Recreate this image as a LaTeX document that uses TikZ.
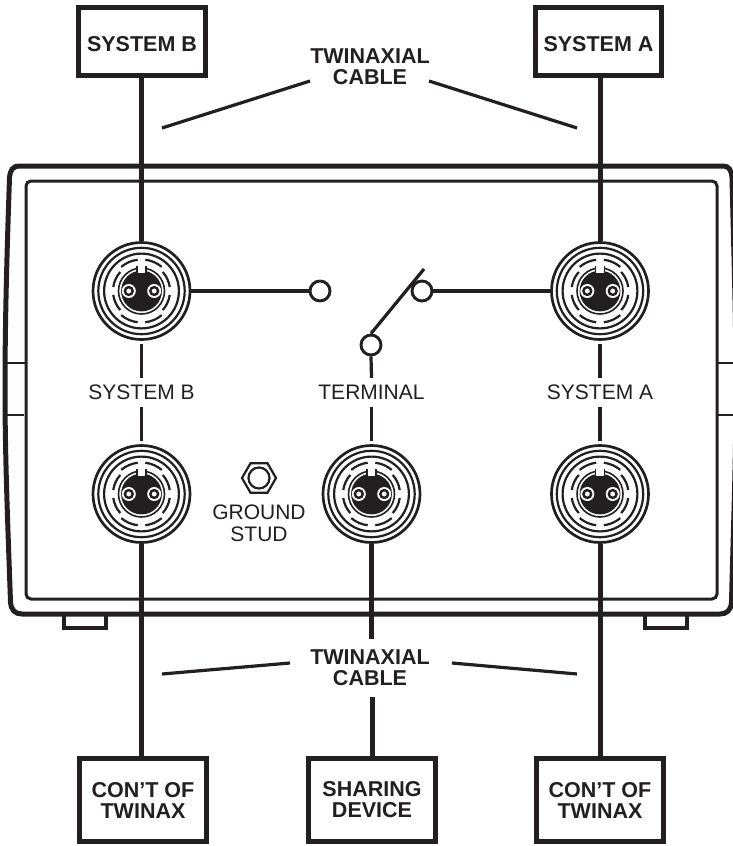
\documentclass[tikz,border=0pt]{standalone}
\usepackage{fontspec}
\setmainfont{Liberation Sans}
\usetikzlibrary{shapes.geometric}
\definecolor{inkblack}{HTML}{231F20}
\tikzset{
  unitbox/.style={draw=inkblack, line width=5pt, fill=white, inner sep=0pt, align=center,
    text=inkblack, font=\fontsize{21.5}{21}\selectfont\bfseries,
    execute at begin node={\rule{0pt}{19.4pt}}},
  lowbox/.style={unitbox, minimum width=127pt, minimum height=83pt,
    execute at begin node={\rule{0pt}{22pt}}},
  cablelabel/.style={inner sep=0pt, align=center, text=inkblack, font=\fontsize{21.5}{21}\selectfont\bfseries},
  panellabel/.style={inner sep=0pt, minimum height=29pt, align=center, text=inkblack, font=\fontsize{21}{22}\selectfont},
  jackbody/.style={circle, draw=inkblack, line width=2.7pt, fill=white, inner sep=0pt, minimum size=97pt},
  contact/.style={circle, draw=inkblack, line width=2.9pt, fill=white, inner sep=0pt, minimum size=20pt},
  cable/.style={draw=inkblack, line width=5pt},
  wire/.style={draw=inkblack, line width=3.2pt},
  leader/.style={draw=inkblack, line width=3.2pt},
  casing/.style={draw=inkblack, line width=5pt},
}
% one twinax socket: #1 = node name, #2 = position
\newcommand{\jack}[2]{%
  \node[jackbody] (#1) at (#2) {};
  \begin{scope}[shift={(#2)}, x=1pt, y=1pt, draw=inkblack, line width=2.2pt]
    \draw (0,0) circle[radius=43.2pt];
    \draw (0,0) circle[radius=37.4pt];
    % broken ring
    \foreach \a/\b/\r in {97/130/31.5, 138/172/28.5, 188/222/28.5, 230/263/31.5,
                          277/310/31.5, 318/352/28.5, 8/42/28.5, 50/83/31.5}
      \draw (\a:\r pt) arc[start angle=\a, end angle=\b, radius=\r pt];
    \draw[line width=1.6pt] (0,0) circle[radius=23pt];
    \fill[inkblack] (0,0) circle[radius=20.4pt];
    % key slot
    \fill[white] (-4.5,16.5) rectangle (4.5,25);
    \draw[line width=1.4pt] (-4.5,25) -- (-4.5,17) -- (4.5,17) -- (4.5,25);
    % pins
    \foreach \x in {-12.7,12.7} {
      \fill[white] (\x,0) circle[radius=7pt];
      \draw[line width=2.4pt] (\x,0) circle[radius=3.9pt];
    }
  \end{scope}
}
\begin{document}
\begin{tikzpicture}[x=1pt, y=-1pt]
  \useasboundingbox (0,0) rectangle (733,846);

  % Case
  \draw[casing] (19,166) -- (723,166) .. controls (729,166) and (731.5,170) .. (732,178)
    .. controls (734,260) and (736,320) .. (736,389) .. controls (736,460) and (733,540) .. (731.5,602)
    .. controls (731,610) and (727,614) .. (720,614) -- (22,614)
    .. controls (15,614) and (11,610) .. (10.5,602) .. controls (8,530) and (5,460) .. (5,389)
    .. controls (5,320) and (7,250) .. (9.5,178) .. controls (10,170) and (13,166) .. (19,166) -- cycle;
  \draw[draw=inkblack, line width=3pt, rounded corners=5pt] (26,181) rectangle (717,599);
  % Side seams
  \draw[draw=inkblack, line width=2pt] (5,363) -- (26,363);
  \draw[draw=inkblack, line width=2pt] (5,415) -- (24,415);
  \draw[draw=inkblack, line width=2pt] (717,363) -- (733,363);
  \draw[draw=inkblack, line width=2pt] (717,415) -- (733,415);
  % Feet
  \draw[casing, line width=4.5pt] (64,616) -- (64,628) -- (106,628) -- (106,616);
  \draw[casing, line width=4.5pt] (645,616) -- (645,628) -- (687,628) -- (687,616);

  % Outside boxes
  \node[unitbox, minimum width=127pt, minimum height=68pt] (boxb) at (142,41.5) {SYSTEM B};
  \node[unitbox, minimum width=126pt, minimum height=68pt] (boxa) at (598.5,41.5) {SYSTEM A};
  \node[lowbox] (boxcb) at (143,800) {CON’T OF\\TWINAX};
  \node[lowbox] (boxs) at (372,800) {SHARING\\DEVICE};
  \node[lowbox] (boxca) at (600,800) {CON’T OF\\TWINAX};

  % Sockets
  \jack{sockb}{141.5,291}
  \jack{socka}{600,291}
  \jack{sockcb}{141.5,494}
  \jack{sockt}{371.5,494}
  \jack{sockca}{600,494}

  % Panel labels
  \node[panellabel] (labb) at (141.5,392.5) {SYSTEM B};
  \node[panellabel] (labt) at (371.5,392.5) {TERMINAL};
  \node[panellabel] (laba) at (600,392.5) {SYSTEM A};
  \node[panellabel, minimum height=0pt] (labg) at (259,523) {GROUND\\STUD};

  % Ground stud
  \node[regular polygon, regular polygon sides=6, draw=inkblack, line width=2.2pt, inner sep=0pt,
        minimum size=34pt] (stud) at (259,478) {};
  \node[circle, draw=inkblack, line width=2.2pt, inner sep=0pt, minimum size=21pt] (studnut) at (259,478) {};

  % Switch
  \node[contact] (contb) at (320,291) {};
  \node[contact] (conta) at (422,291) {};
  \node[contact] (contt) at (371,345) {};
  \coordinate (armtip) at (424,269);
  \draw[wire] (contt.north) -- (armtip);
  \draw[wire] (sockb.east) -- (contb.west);
  \draw[wire] (conta.east) -- (socka.west);
  \draw[wire] (contt.south) -- (labt.north);
  \draw[wire, shorten <=3pt] (sockt.north) -- (labt.south);

  % Lines between sockets
  \draw[wire, shorten <=3pt] (sockb.south) -- (labb.north);
  \draw[wire, shorten <=3pt] (sockcb.north) -- (labb.south);
  \draw[wire, shorten <=3pt] (socka.south) -- (laba.north);
  \draw[wire, shorten <=3pt] (sockca.north) -- (laba.south);

  % Cables
  \draw[cable] (boxb.south -| sockb) -- (sockb.north);
  \draw[cable] (boxa.south -| socka) -- (socka.north);
  \draw[cable] (sockcb.south) -- (boxcb.north -| sockcb);
  \draw[cable] (sockca.south) -- (boxca.north -| sockca);

  % Cable labels
  \node[cablelabel] (cabletop) at (370,67) {TWINAXIAL\\CABLE};
  \node[cablelabel] (cablebot) at (370,667.5) {TWINAXIAL\\CABLE};
  \draw[cable] (sockt.south) -- (371.5,639);
  \draw[cable] (boxs.north) -- (372,697);

  % Leaders
  \coordinate (ltl) at (162,128);
  \coordinate (ltr) at (577,128);
  \coordinate (lbl) at (162,674);
  \coordinate (lbr) at (577,674);
  \coordinate (ctl) at (310,81);
  \coordinate (ctr) at (429,81);
  \coordinate (cbl) at (290,663);
  \coordinate (cbr) at (452,663);
  \draw[leader] (ctl) -- (ltl);
  \draw[leader] (ctr) -- (ltr);
  \draw[leader] (cbl) -- (lbl);
  \draw[leader] (cbr) -- (lbr);
\end{tikzpicture}
\end{document}
